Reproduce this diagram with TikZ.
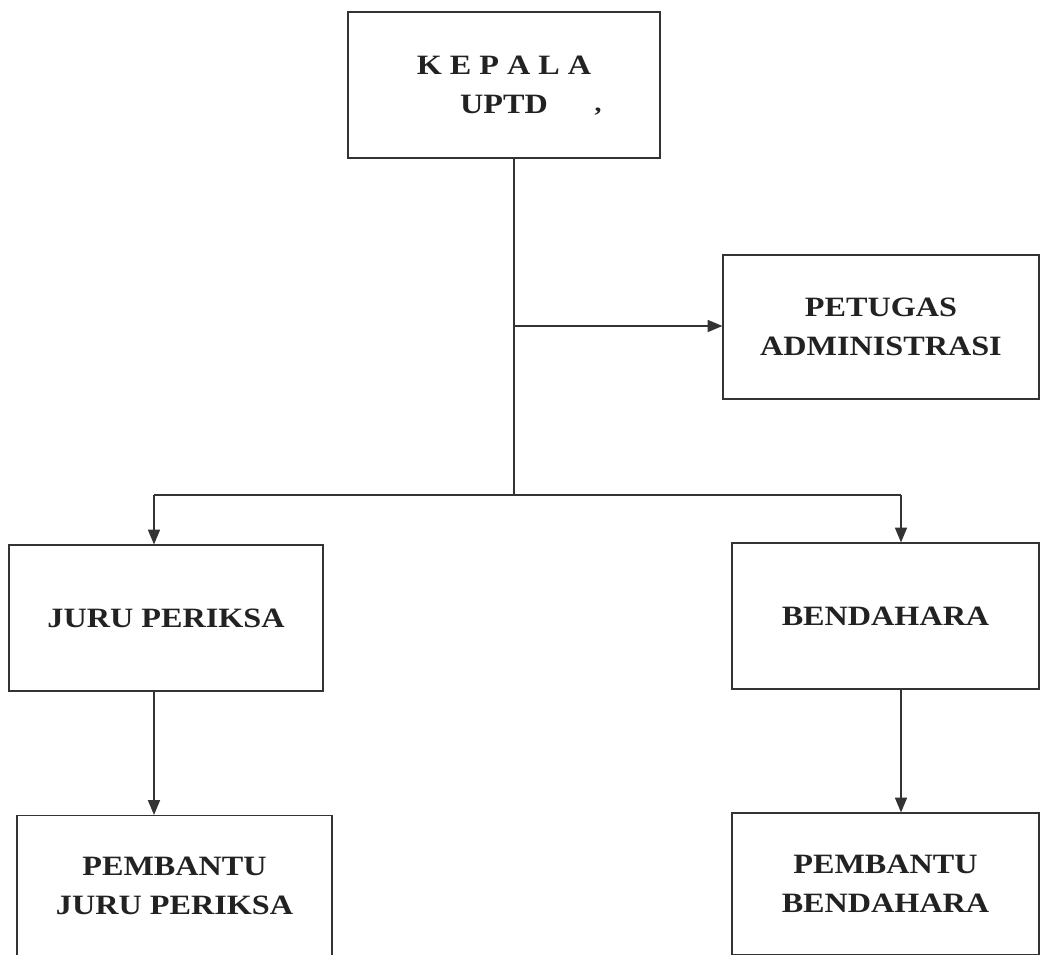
\documentclass[tikz,border=0pt]{standalone}
\usepackage{fontspec}
\setmainfont{Liberation Serif}[FakeStretch=1.15]
\usetikzlibrary{arrows.meta}
\definecolor{ink}{HTML}{222222}
\definecolor{linecol}{HTML}{333333}
\begin{document}
\begin{tikzpicture}[x=0.75pt,y=-0.75pt,
  box/.style={draw=linecol, line width=0.9pt, rectangle, inner sep=0pt, align=center,
    text=ink, font=\bfseries\fontsize{21}{29.5}\selectfont},
  conn/.style={draw=linecol, line width=0.9pt},
  arr/.style={conn, -{Triangle[length=11pt,width=9pt]}}]
\useasboundingbox (0,0) rectangle (1041,955);
\fill[white] (0,0) rectangle (1041,955);
% boxes
\node[box, minimum width=234pt, minimum height=109.5pt] (top) at (504,85) {K E P A L A\\UPTD};
\node[text=ink, font=\bfseries\fontsize{18}{18}\selectfont] (mark) at (598,112) {,};
\node[box, minimum width=237pt, minimum height=108pt] (pet) at (881,327) {PETUGAS\\ADMINISTRASI};
\node[box, minimum width=235.5pt, minimum height=109.5pt] (jp) at (166,618) {JURU PERIKSA};
\node[box, minimum width=230.25pt, minimum height=109.5pt] (ben) at (885.5,616) {BENDAHARA};
\node[box, minimum width=236.25pt, minimum height=105.75pt] (pjp) at (174.5,886) {PEMBANTU\\JURU PERIKSA};
\node[box, minimum width=230.25pt, minimum height=106.5pt] (pb) at (885.5,884) {PEMBANTU\\BENDAHARA};
% fix box edges to reference positions
% junctions
\coordinate (j1) at (514,326);
\coordinate (j2) at (514,495);
\coordinate (jl) at (154,495);
\coordinate (jr) at (901,495);
% connectors
\draw[conn] (top.south -| j1) -- (j2);
\draw[arr] (j1) -- (pet.west |- j1);
\draw[conn] (jl) -- (jr);
\draw[arr] (jl) -- (jp.north -| jl);
\draw[arr] (jr) -- (ben.north -| jr);
\draw[arr] (jp.south -| jl) -- (pjp.north -| jl);
\draw[arr] (ben.south -| jr) -- (pb.north -| jr);
\end{tikzpicture}
\end{document}
